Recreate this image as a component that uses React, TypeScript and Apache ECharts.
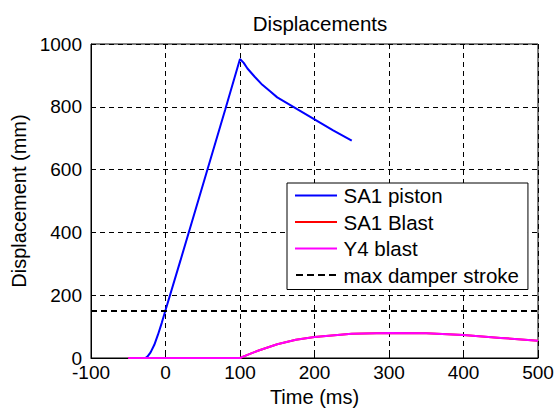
import React, { useEffect, useRef } from "react";
import * as echarts from "echarts";

const pistonTime = [-30, -27, -24, -20, -15, -10, -5, 0, 20, 40, 60, 80, 100, 105, 110, 120, 130, 140, 150, 175, 200, 225, 250];
const pistonDisp = [0, 0, 5, 18, 42, 75, 112, 152, 310, 470, 630, 790, 952, 940, 922, 895, 870, 850, 830, 795, 760, 725, 692];

const blastTime = [-50, 0, 50, 100, 110, 125, 150, 175, 200, 250, 300, 350, 400, 450, 500];
const sa1Blast = [0, 0, 0, 0, 10, 24, 44, 58, 67, 77, 80, 79, 73, 64, 55];
const y4Blast = [0, 0, 0, 0, 10, 24, 44, 58, 67, 77, 80, 79, 73, 64, 55];

const strokeTime = [-100, 500];
const strokeDisp = [150, 150];

const xTicks = [-100, 0, 100, 200, 300, 400, 500];
const yTicks = [0, 200, 400, 600, 800, 1000];

const legendNames = ["SA1 piston", "SA1 Blast", "Y4 blast", "max damper stroke"];

const pairs = (xs: number[], ys: number[]) => xs.map((x, i) => [x, ys[i]]);
const FONT = "Liberation Sans";
const SOLID_ICON = "path://M0,0h42v2h-42z";
const DASH_ICON = "path://M0,0h7v2h-7z M11,0h7v2h-7z M22,0h7v2h-7z M33,0h7v2h-7z";

export default function App() {
  const ref = useRef<HTMLDivElement>(null);
  useEffect(() => {
    if (!ref.current) return;
    const chart = echarts.init(ref.current, undefined, { renderer: "svg" });
    const axisCommon = {
      axisLine: { show: true, onZero: false, lineStyle: { color: "#000", width: 1 } },
      axisTick: { show: true, inside: true, length: 5, lineStyle: { color: "#000" } },
      splitLine: { show: true, lineStyle: { color: "#000", type: [5, 4], width: 1 } },
      axisLabel: { color: "#000", fontSize: 19, fontFamily: FONT, formatter: (v: number) => String(v) },
      nameTextStyle: { color: "#000", fontSize: 20, fontFamily: FONT },
    };
    chart.setOption({
      animation: false,
      backgroundColor: "#fff",
      title: {
        text: "Displacements",
        left: 315,
        textAlign: "center",
        top: 8,
        textStyle: { fontSize: 20.5, fontWeight: "normal", color: "#000", fontFamily: FONT },
      },
      grid: { left: 91, right: 22, top: 44, bottom: 56, show: true, borderColor: "#000", borderWidth: 1 },
      xAxis: {
        type: "value",
        min: xTicks[0],
        max: xTicks[xTicks.length - 1],
        interval: 100,
        name: "Time (ms)",
        nameLocation: "middle",
        nameGap: 29,
        ...axisCommon,
        axisLabel: { ...axisCommon.axisLabel, margin: 5 },
      },
      yAxis: {
        type: "value",
        min: yTicks[0],
        max: yTicks[yTicks.length - 1],
        interval: 200,
        name: "Displacement (mm)",
        nameLocation: "middle",
        nameGap: 61,
        ...axisCommon,
        axisLabel: { ...axisCommon.axisLabel, margin: 9 },
      },
      legend: {
        orient: "vertical",
        left: 287,
        top: 183,
        backgroundColor: "#fff",
        borderColor: "#000",
        borderWidth: 1,
        borderRadius: 0,
        padding: [2, 9, 4, 8],
        itemGap: 5.5,
        itemWidth: 43,
        itemHeight: 2,
        textStyle: { fontSize: 20.5, color: "#000", fontFamily: FONT, padding: [0, 0, 0, 1] },
        data: [
          { name: legendNames[0], icon: SOLID_ICON },
          { name: legendNames[1], icon: SOLID_ICON },
          { name: legendNames[2], icon: SOLID_ICON },
          { name: legendNames[3], icon: DASH_ICON },
        ],
      },
      series: [
        {
          name: legendNames[0],
          type: "line",
          data: pairs(pistonTime, pistonDisp),
          symbol: "none",
          lineStyle: { color: "#0000ff", width: 2 },
          itemStyle: { color: "#0000ff" },
        },
        {
          name: legendNames[1],
          type: "line",
          data: pairs(blastTime, sa1Blast),
          symbol: "none",
          lineStyle: { color: "#ff0000", width: 2 },
          itemStyle: { color: "#ff0000" },
        },
        {
          name: legendNames[2],
          type: "line",
          data: pairs(blastTime, y4Blast),
          symbol: "none",
          lineStyle: { color: "#ff00ff", width: 2 },
          itemStyle: { color: "#ff00ff" },
        },
        {
          name: legendNames[3],
          type: "line",
          data: pairs(strokeTime, strokeDisp),
          symbol: "none",
          lineStyle: { color: "#000", width: 2, type: [6, 4] },
          itemStyle: { color: "#000" },
        },
      ],
    });
    return () => chart.dispose();
  }, []);
  return <div ref={ref} style={{ width: 560, height: 414, position: "absolute", left: 0, top: 0 }} />;
}
